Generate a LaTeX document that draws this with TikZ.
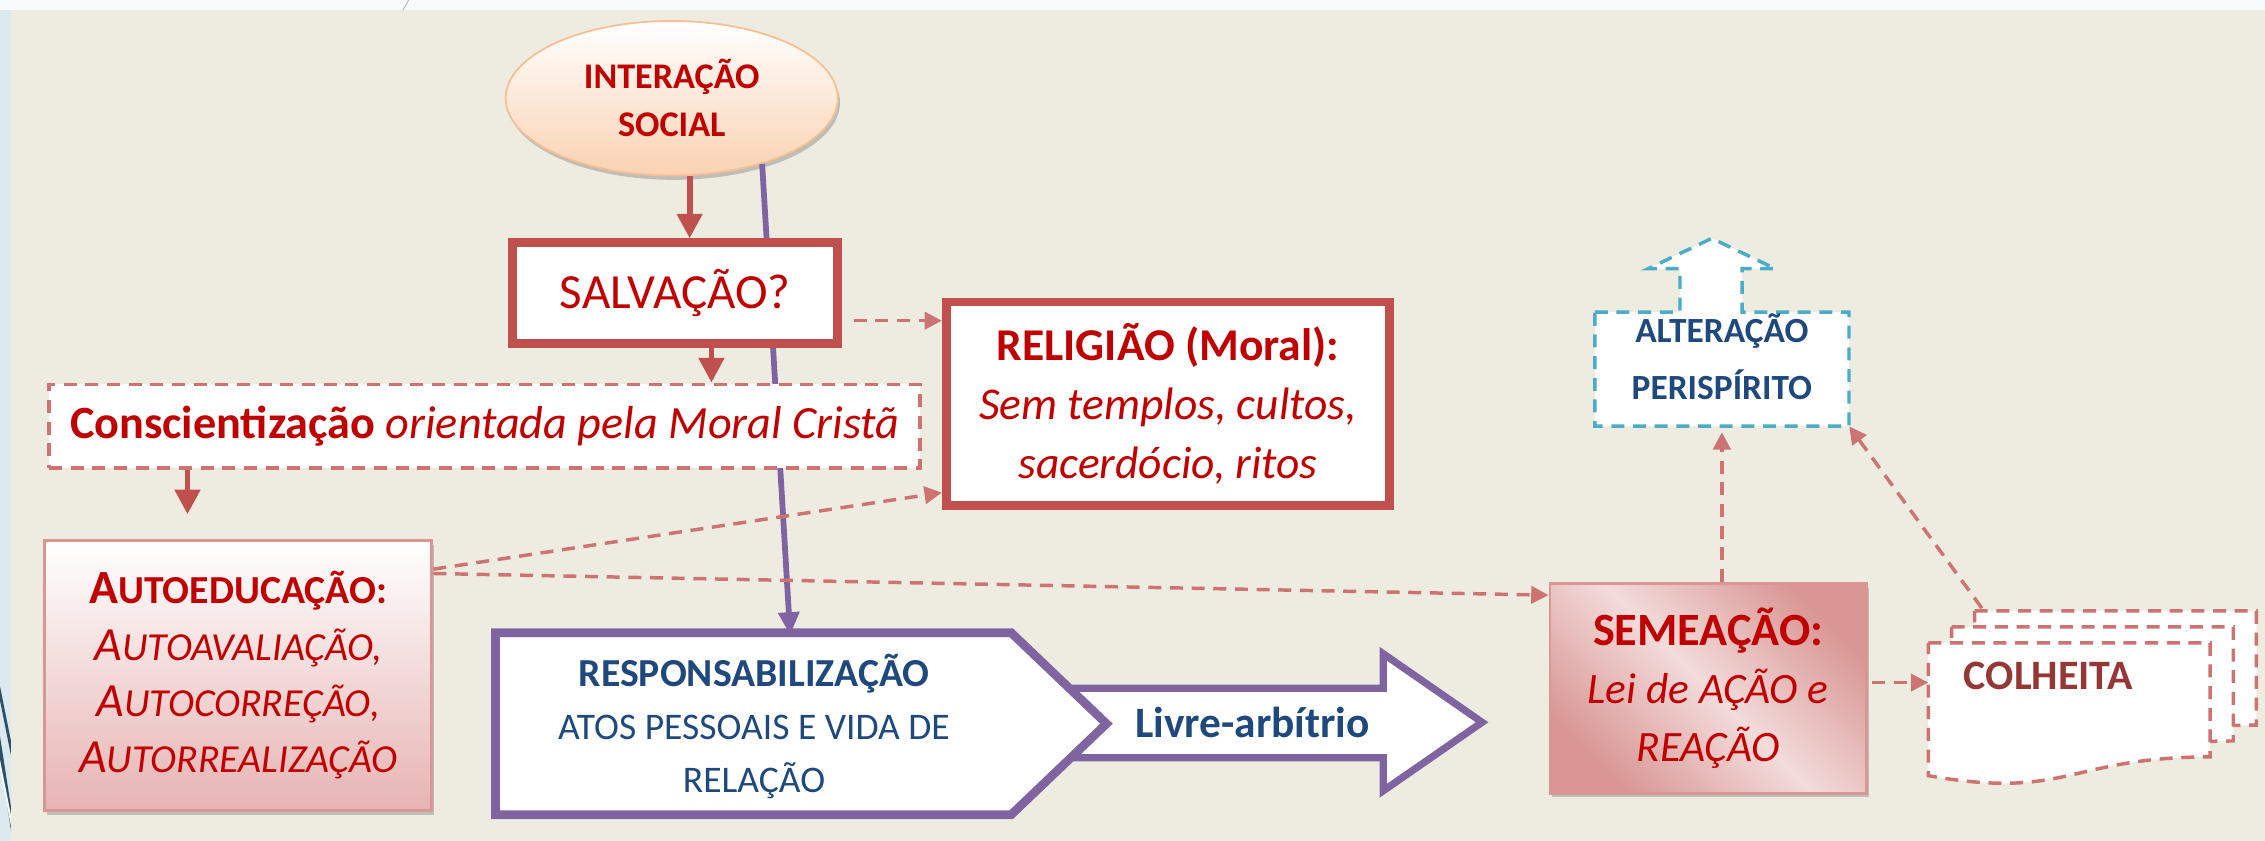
\documentclass[tikz,border=0pt]{standalone}
\usepackage{fontspec}
\setmainfont{Carlito}
\usetikzlibrary{shapes.geometric,arrows.meta,shadows,calc}
\definecolor{bgbeige}{HTML}{EEECE1}
\definecolor{topwhite}{HTML}{F8FAFD}
\definecolor{stripblue}{HTML}{DCE9EF}
\definecolor{stripdark}{HTML}{2E5068}
\definecolor{txtred}{HTML}{C00000}
\definecolor{boxred}{HTML}{C0504D}
\definecolor{purp}{HTML}{8064A2}
\definecolor{dblue}{HTML}{1F497D}
\definecolor{lblue}{HTML}{4BACC6}
\definecolor{pinkA}{HTML}{D99694}
\definecolor{pinkB}{HTML}{F2DCDB}
\definecolor{pinkC}{HTML}{E6B4B3}
\definecolor{peachline}{HTML}{F6BE92}
\definecolor{peachfill}{HTML}{FAD2B2}
\definecolor{brownred}{HTML}{953735}
\newcommand\myscap[2]{{\fontsize{33}{39}\selectfont #1}{\fontsize{27.5}{39}\selectfont #2}}
\begin{document}
\begin{tikzpicture}[x=1pt,y=-1pt,
  redarrow/.style={draw=boxred, line width=4pt, -{Triangle[length=17pt,width=17pt]}},
  dasharrow/.style={draw=boxred!80, line width=2.4pt, dash pattern=on 9pt off 6pt, -{Triangle[length=12pt,width=12pt]}},
  purparrow/.style={draw=purp, line width=4pt, -{Triangle[length=16pt,width=14pt]}},
  thickbox/.style={draw=boxred, line width=6pt, fill=white, inner sep=0pt, align=center, text=txtred},
  dashline/.style={draw=boxred!80, line width=2.4pt, dash pattern=on 9pt off 6pt},
  softshadow/.style={drop shadow={shadow xshift=1.5pt, shadow yshift=-3pt, opacity=0.35, fill=black!60}},
]
\useasboundingbox (0,0) rectangle (1568,582);
% background
\fill[topwhite] (0,0) rectangle (1568,582);
\fill[bgbeige] (7.6,7) rectangle (1568,582);
\fill[stripblue] (0,7) rectangle (7.6,582);
\begin{scope}
  \clip (0,7) rectangle (7.6,582);
  \draw[stripdark, line width=2pt] (-2,470) -- (10,530);
  \draw[stripdark, line width=2.5pt] (-2,505) -- (10,582);
  \draw[white!70!stripblue, line width=1.5pt] (-2,520) -- (10,580);
\end{scope}
\draw[gray!60, line width=0.6pt] (283,0) -- (279,7);

% ellipse
\node[ellipse, draw=peachline, line width=1.2pt, top color=white, bottom color=peachfill,
      minimum width=230pt, minimum height=107pt, inner sep=0pt, align=center, text=txtred,
      font=\bfseries\fontsize{25}{33}\selectfont, softshadow] (inter) at (465,68) {INTERAÇÃO\\SOCIAL};

% livre-arbitrio arrow
\draw[draw=purp, line width=5pt, fill=white, line join=miter]
  (720,476.5) -- (957.5,476.5) -- (957.5,452.5) -- (1026,500) -- (957.5,547.5) -- (957.5,524.5) -- (720,524.5) -- cycle;
% pentagon
\draw[draw=purp, line width=6pt, fill=white, line join=miter]
  (343,438) -- (700,438) -- (766,501) -- (700,564) -- (343,564) -- cycle;
\node[text=dblue, align=center, font=\fontsize{26}{36.5}\selectfont, inner sep=0pt,
      minimum width=357pt, minimum height=126pt] (resp) at (522,503)
  {{\bfseries\fontsize{27.5}{36.5}\selectfont RESPONSABILIZAÇÃO}\\ATOS PESSOAIS E VIDA DE\\RELAÇÃO};
\node[text=dblue, font=\bfseries\fontsize{30}{34}\selectfont] (livre) at (867,500) {Livre-arbítrio};

% purple connector
\draw[purparrow] (inter.-36) -- ($(resp.north west)!0.57!(resp.north east)$);

% boxes
\node[thickbox, minimum width=225pt, minimum height=70pt, font=\fontsize{34}{38}\selectfont] (salv) at (467.5,203) {SALVAÇÃO?};
\node[dashline, fill=white, minimum width=603pt, minimum height=58pt, inner sep=0pt, text=txtred,
      font=\fontsize{32}{36}\selectfont] (consc) at (335.5,295)
  {\textbf{Conscientização} \textit{orientada pela Moral Cristã}};
\node[thickbox, minimum width=307pt, minimum height=141pt, font=\fontsize{31.5}{41}\selectfont] (relig) at (808.5,279.5)
  {\textbf{RELIGIÃO (Moral):}\\\textit{Sem templos, cultos,}\\\textit{sacerdócio, ritos}};
\node[draw=pinkA, line width=2pt, top color=white, bottom color=pinkC, minimum width=268pt, minimum height=187pt,
      inner sep=0pt, align=center, text=txtred, font=\fontsize{27.5}{39}\selectfont, softshadow] (autoed) at (165,467.5)
  {\textbf{\myscap{A}{UTOEDUCAÇÃO:}}\\\textit{\myscap{A}{UTOAVALIAÇÃO,}}\\\textit{\myscap{A}{UTOCORREÇÃO,}}\\\textit{\myscap{A}{UTORREALIZAÇÃO}}};
\node[draw=pinkA, line width=2pt, left color=pinkA, right color=pinkA, middle color=pinkB, shading angle=-45,
      minimum width=219pt, minimum height=145pt, inner sep=0pt, align=center, text=txtred,
      font=\fontsize{30}{40}\selectfont, softshadow] (semea) at (1182.5,476.5)
  {{\bfseries\fontsize{32}{40}\selectfont SEMEAÇÃO:}\\\textit{Lei de AÇÃO e}\\\textit{REAÇÃO}};

% alteracao perispirito
\draw[draw=lblue, line width=2.4pt, dash pattern=on 9pt off 6pt, fill=white]
  (1104,216) -- (1163,216) -- (1163,186) -- (1141,186) -- (1185,165) -- (1229,186) -- (1206,186) -- (1206,216)
  -- (1280,216) -- (1280,295) -- (1104,295) -- cycle;
\node[minimum width=176pt, minimum height=79pt, inner sep=0pt] (alter) at (1192,255.5) {};
\node[text=dblue, align=center, font=\bfseries\fontsize{24.5}{39}\selectfont] (altertxt) at (1192,247) {ALTERAÇÃO\\PERISPÍRITO};

% colheita (multi document)
\foreach \d in {32,16,0}{
  \draw[dashline, fill=white]
    (1335+\d,445-0.69*\d) -- (1530+\d,445-0.69*\d) -- (1530+\d,524-0.69*\d)
    .. controls (1432+\d,524-0.69*\d) and (1432+\d,554-0.69*\d) .. (1335+\d,537-0.69*\d) -- cycle;
}
\node[minimum width=195pt, minimum height=80pt, inner sep=0pt] (colh) at (1432.5,485) {};
\node[text=brownred, font=\bfseries\fontsize{29}{32}\selectfont] (colhtxt) at (1418,468) {COLHEITA};

% solid red arrows
\draw[redarrow] (inter.-77) -- (inter.-77 |- salv.north);
\coordinate (s2) at ($(salv.south)+(25,0)$);
\draw[redarrow] (s2) -- (s2 |- consc.north);
\coordinate (c1) at ($(consc.south west)+(97,0)$);
\draw[redarrow, shorten >=17pt] (c1) -- (c1 |- autoed.north);

% dashed arrows
\coordinate (s1) at ($(salv.east)+(8,19)$);
\draw[dasharrow] (s1) -- (s1 -| relig.west);
\coordinate (a1) at ($(autoed.north east)+(0,21)$);
\draw[dasharrow] (a1) -- ($(relig.south west)+(0,-12)$);
\coordinate (a2) at ($(autoed.north east)+(0,24)$);
\draw[dasharrow] (a2) -- ($(semea.north west)+(0,9)$);
\draw[dasharrow, shorten >=4pt] (alter.south |- semea.north) -- (alter.south);
\coordinate (e1) at ($(semea.east)+(3,-4)$);
\draw[dasharrow] (e1) -- (e1 -| colh.west);
\coordinate (ct) at (1372,421);
\draw[dasharrow] (ct) -- (alter.south east);
\end{tikzpicture}
\end{document}
